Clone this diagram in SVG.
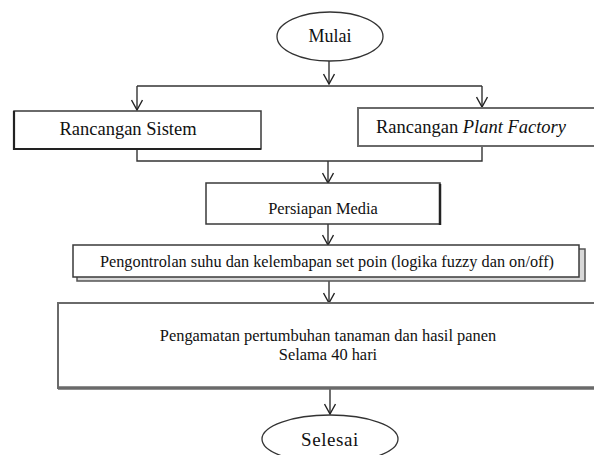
<svg xmlns="http://www.w3.org/2000/svg" width="594" height="455" viewBox="0 0 594 455">
<style>
text{font-family:"Liberation Serif","Times New Roman",serif;fill:#111;text-anchor:middle}
.box{fill:#fff;stroke:#3a3a3a;stroke-width:1.5}
.gbox{fill:#fff;stroke:#6a6a6a;stroke-width:2}
.shadow{fill:#d8d8d8;stroke:#555;stroke-width:1.5}
.edge{fill:none;stroke:#333;stroke-width:1.4}
.ell{fill:#fff;stroke:#333;stroke-width:1.3}
</style>
<defs>
<marker id="arr" markerUnits="userSpaceOnUse" viewBox="-11 -6 12 12" markerWidth="12" markerHeight="12" refX="0" refY="0" orient="auto">
<path d="M-10,-5.5 L0,0 L-10,5.5" fill="none" stroke="#222" stroke-width="1.4"/>
</marker>
</defs>
<rect width="594" height="455" fill="#fff"/>
<g id="connectors">
<path class="edge" d="M329,61 V84" marker-end="url(#arr)"/>
<path class="edge" d="M137,86 H482"/>
<path class="edge" d="M137,86 V110" marker-end="url(#arr)"/>
<path class="edge" d="M482,86 V107" marker-end="url(#arr)"/>
<path class="edge" d="M137,149 V161 H482 V146"/>
<path class="edge" d="M328,161 V183" marker-end="url(#arr)"/>
<path class="edge" d="M328,224 V245" marker-end="url(#arr)"/>
<path class="edge" d="M329,281 V303" marker-end="url(#arr)"/>
<path class="edge" d="M330,389 V414" marker-end="url(#arr)"/>
</g>
<g id="mulai">
<ellipse class="ell" cx="330" cy="36.5" rx="53" ry="24.5"/>
<text x="330" y="42" font-size="18">Mulai</text>
</g>
<g id="rancangan-sistem">
<rect class="box" x="14" y="111" width="247" height="38"/>
<path d="M14,111 V149 H261" fill="none" stroke="#222" stroke-width="2.2"/>
<text x="128" y="135" font-size="18.5">Rancangan Sistem</text>
</g>
<g id="rancangan-plant-factory">
<rect class="gbox" x="358" y="108" width="250" height="38"/>
<text x="471" y="133" font-size="18.5">Rancangan <tspan font-style="italic">Plant Factory</tspan></text>
</g>
<g id="persiapan-media">
<rect class="box" x="206" y="183" width="234" height="41"/>
<path d="M440,184 V225" fill="none" stroke="#222" stroke-width="2.5"/>
<text x="323" y="214" font-size="16.4">Persiapan Media</text>
</g>
<g id="pengontrolan">
<rect class="shadow" x="77" y="249" width="508" height="32"/>
<rect class="box" x="73" y="245" width="506" height="32"/>
<text x="327" y="267" font-size="16.3">Pengontrolan suhu dan kelembapan set poin (logika fuzzy dan on/off)</text>
</g>
<g id="pengamatan">
<rect class="gbox" x="58" y="303" width="560" height="85"/>
<path d="M58,388 H594" stroke="#6a6a6a" stroke-width="3.5"/>
<text x="328" y="341" font-size="16.4">Pengamatan pertumbuhan tanaman dan hasil panen</text>
<text x="328" y="360" font-size="16.4">Selama 40 hari</text>
</g>
<g id="selesai">
<ellipse class="ell" cx="330" cy="439" rx="68" ry="24"/>
<text x="330" y="446" font-size="19" letter-spacing="0.6">Selesai</text>
</g>
</svg>
